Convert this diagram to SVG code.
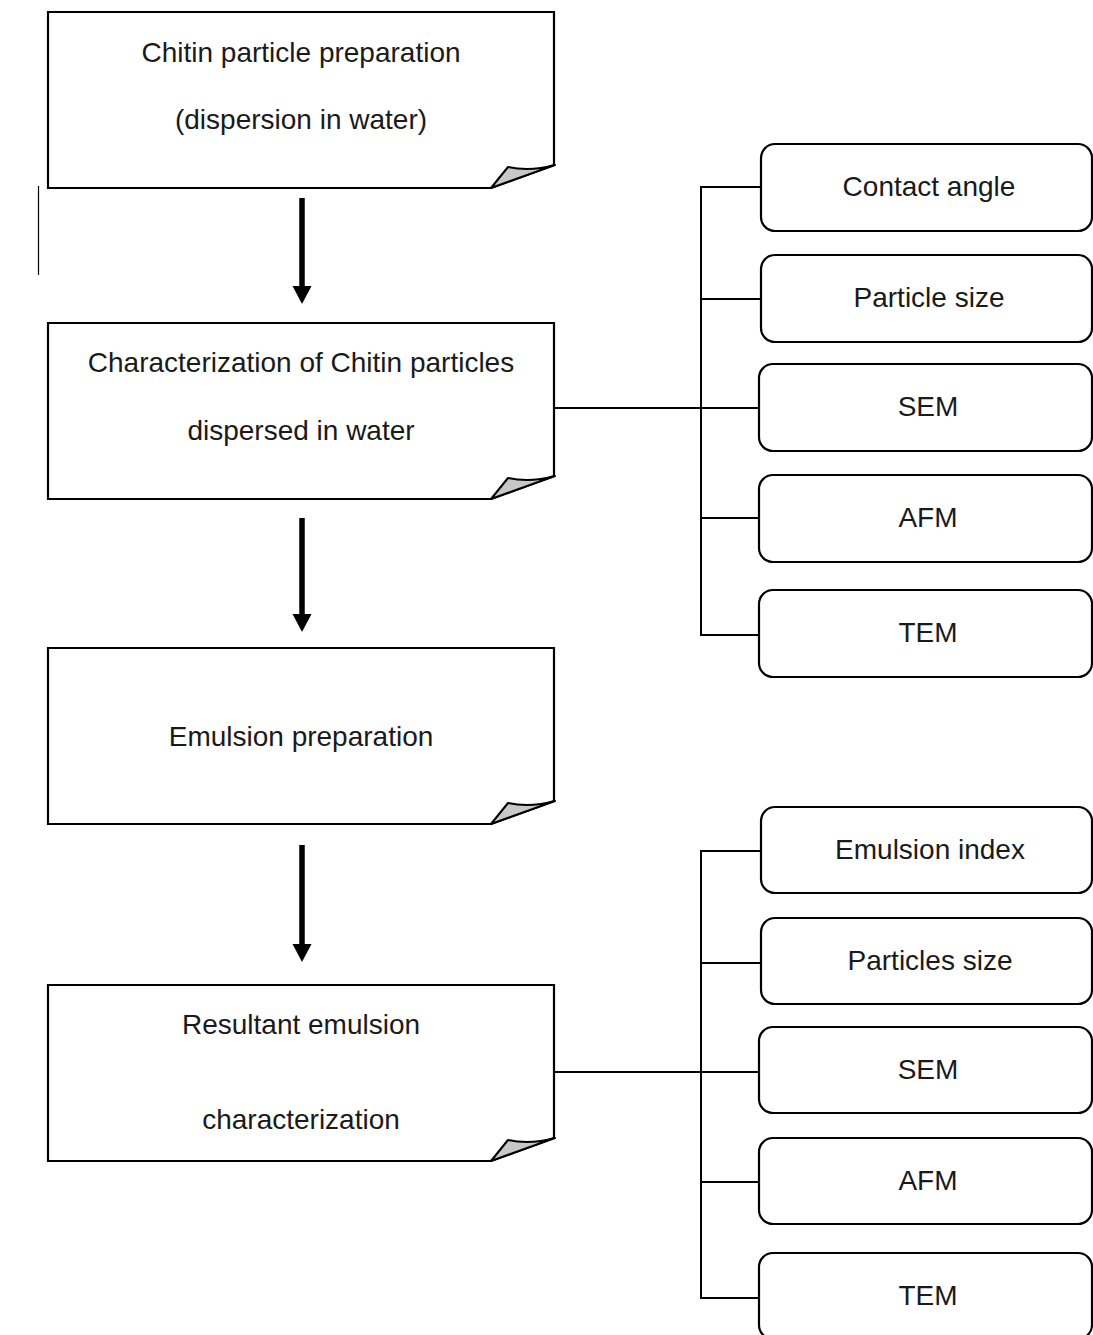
<svg xmlns="http://www.w3.org/2000/svg" width="1093" height="1335" viewBox="0 0 1093 1335">
<style>
text{font-family:"Liberation Sans",Arial,sans-serif;font-size:28px;fill:#1a1a1a;text-anchor:middle}
.paper{fill:#fff;stroke:#000;stroke-width:2.2}
.curl{fill:#c8c8c8;stroke:#000;stroke-width:2;stroke-linejoin:round}
.rbox{fill:#fff;stroke:#000;stroke-width:2.2}
.conn{fill:none;stroke:#000;stroke-width:2}
.shaft{stroke:#000;stroke-width:5.5}
</style>
<defs>
<g id="curl"><path class="curl" d="M491,0 L508,-21 Q530,-16 555,-23 Z"/></g>
</defs>
<line x1="38.5" y1="186" x2="38.5" y2="275" stroke="#000" stroke-width="1.2"/>
<g id="step1">
<path class="paper" d="M48,12 H554 V165 L491,188 H48 Z"/>
<use href="#curl" transform="translate(0,188)"/>
<text x="301" y="62">Chitin particle preparation</text>
<text x="301" y="129">(dispersion in water)</text>
</g>
<g id="step2">
<path class="paper" d="M48,323 H554 V476 L491,499 H48 Z"/>
<use href="#curl" transform="translate(0,499)"/>
<text x="301" y="372">Characterization of Chitin particles</text>
<text x="301" y="440">dispersed in water</text>
</g>
<g id="step3">
<path class="paper" d="M48,648 H554 V801 L491,824 H48 Z"/>
<use href="#curl" transform="translate(0,824)"/>
<text x="301" y="746">Emulsion preparation</text>
</g>
<g id="step4">
<path class="paper" d="M48,985 H554 V1138 L491,1161 H48 Z"/>
<use href="#curl" transform="translate(0,1161)"/>
<text x="301" y="1034">Resultant emulsion</text>
<text x="301" y="1129">characterization</text>
</g>
<g id="r1"><rect class="rbox" x="761" y="144" width="331" height="87" rx="14"/><text x="929" y="196">Contact angle</text></g>
<g id="r2"><rect class="rbox" x="761" y="255" width="331" height="87" rx="14"/><text x="929" y="307">Particle size</text></g>
<g id="r3"><rect class="rbox" x="759" y="364" width="333" height="87" rx="14"/><text x="928" y="416">SEM</text></g>
<g id="r4"><rect class="rbox" x="759" y="475" width="333" height="87" rx="14"/><text x="928" y="527">AFM</text></g>
<g id="r5"><rect class="rbox" x="759" y="590" width="333" height="87" rx="14"/><text x="928" y="642">TEM</text></g>
<g id="r6"><rect class="rbox" x="761" y="807" width="331" height="86" rx="14"/><text x="930" y="859">Emulsion index</text></g>
<g id="r7"><rect class="rbox" x="761" y="918" width="331" height="86" rx="14"/><text x="930" y="970">Particles size</text></g>
<g id="r8"><rect class="rbox" x="759" y="1027" width="333" height="86" rx="14"/><text x="928" y="1079">SEM</text></g>
<g id="r9"><rect class="rbox" x="759" y="1138" width="333" height="86" rx="14"/><text x="928" y="1190">AFM</text></g>
<g id="r10"><rect class="rbox" x="759" y="1253" width="333" height="86" rx="14"/><text x="928" y="1305">TEM</text></g>
<g id="connectors">
<line class="shaft" x1="302" y1="198" x2="302" y2="288"/>
<path d="M292.5,286 L311.5,286 L302,304 Z"/>
<line class="shaft" x1="302" y1="518" x2="302" y2="616"/>
<path d="M292.5,614 L311.5,614 L302,632 Z"/>
<line class="shaft" x1="302" y1="845" x2="302" y2="946"/>
<path d="M292.5,944 L311.5,944 L302,962 Z"/>
<path class="conn" d="M761,187 H701 V635 H759 M701,299 H761 M554,408 H759 M701,518 H759"/>
<path class="conn" d="M761,851 H701 V1298 H759 M701,963 H761 M554,1072 H759 M701,1182 H759"/>
</g>
</svg>
